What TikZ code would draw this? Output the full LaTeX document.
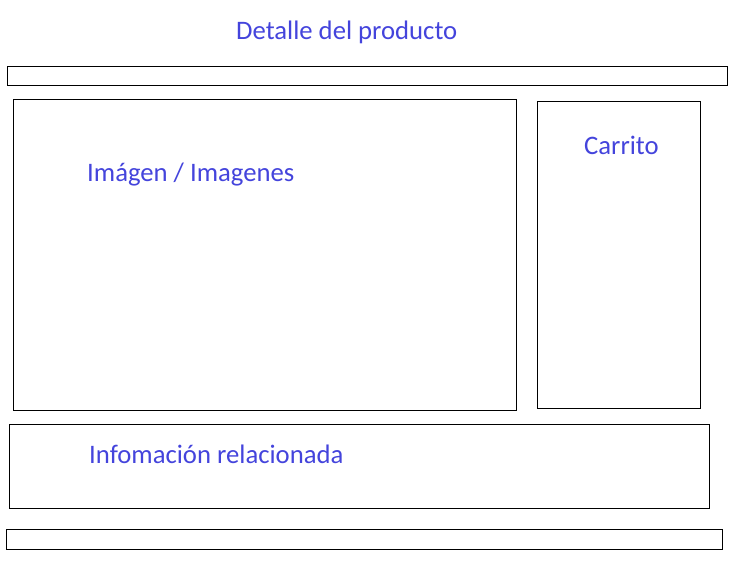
\documentclass[tikz,border=0pt]{standalone}
\usepackage{fontspec}
\setmainfont{Carlito}
\definecolor{lbl}{RGB}{68,68,220}
\begin{document}
\begin{tikzpicture}[x=1pt,y=-1pt,
  frame/.style={draw=black,line width=1pt},
  lab/.style={text=lbl,font=\fontsize{26.7}{30}\selectfont,inner sep=0pt,anchor=base west}]
\useasboundingbox (0,0) rectangle (736,565);
\node[lab] (title) at (236,39) {Detalle del producto};
\draw[frame] (7,66) rectangle (727,85);
\draw[frame] (13,99) rectangle (516,410);
\draw[frame] (537,101) rectangle (700,408);
\draw[frame] (9,424) rectangle (709,508);
\draw[frame] (6,529) rectangle (722,549);
\node[lab] (img) at (87,181) {Imágen / Imagenes};
\node[lab] (cart) at (584,154) {Carrito};
\node[lab] (info) at (89,463.5) {Infomación relacionada};
\end{tikzpicture}
\end{document}
